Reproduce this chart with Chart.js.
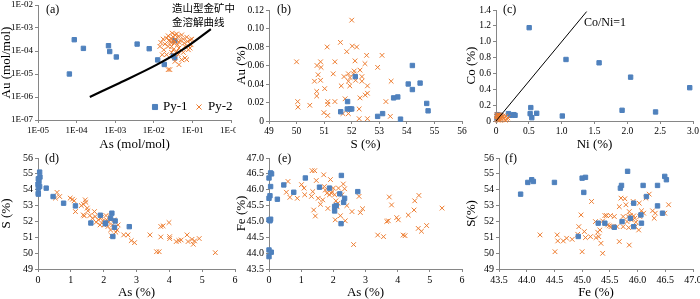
<!DOCTYPE html>
<html>
<head>
<meta charset="utf-8">
<script src="https://cdn.jsdelivr.net/npm/chart.js@4.4.0/dist/chart.umd.min.js"></script>
<style>
body { margin: 0; background: #fff; }
#wrap { position: relative; width: 700px; height: 299px; overflow: hidden; }
canvas { position: absolute; }
</style>
</head>
<body>
<div id="wrap">
<canvas id="ca" width="236" height="151" style="left:0;top:0"></canvas>
<canvas id="cb" width="232" height="151" style="left:235px;top:0"></canvas>
<canvas id="cc" width="235" height="151" style="left:465px;top:0"></canvas>
<canvas id="cd" width="240" height="149" style="left:0;top:150px"></canvas>
<canvas id="ce" width="232" height="149" style="left:235px;top:150px"></canvas>
<canvas id="cf" width="235" height="149" style="left:465px;top:150px"></canvas>
</div>
<script>
// ---- data ----
// (a) As vs Au, mol/mol, log-log
var aPy1 = [[6.5e-5,1e-5],[8.7e-5,3.1e-4],[1.5e-4,1.3e-4],[6.7e-4,1.7e-4],[7.2e-4,9.5e-5],[1.07e-3,5.5e-5],
  [3.7e-3,2.0e-4],[7.6e-3,1.26e-4],[0.0126,4.1e-5],[0.0187,2.6e-5],[0.032,6.2e-5],[0.035,5.0e-5],[0.035,2.8e-4]];
var aPy2 = [[0.0152,2.35e-4],[0.0175,3.28e-4],[0.0194,2.0e-4],[0.0214,3.62e-4],[0.0236,4.57e-4],[0.0261,2.6e-4],
  [0.0289,1.58e-4],[0.0301,5.96e-4],[0.0319,4.0e-4],[0.0332,2.2e-4],[0.0353,5.05e-4],[0.0367,3.28e-4],[0.039,5.5e-4],
  [0.0414,1.87e-4],[0.0431,4.28e-4],[0.0449,1.34e-4],[0.0477,2.87e-4],[0.0527,5.0e-4],[0.0582,3.28e-4],[0.0618,2.2e-4],
  [0.0644,1.58e-4],[0.0711,4.0e-4],[0.0755,2.6e-4],[0.0787,1.13e-4],[0.0869,3.07e-4],[0.0923,1.87e-4],[0.0582,8.7e-5],
  [0.0644,4.95e-5],[0.0711,4.2e-5],[0.0431,6.9e-5],[0.0449,2.55e-5],[0.0261,1.55e-5],[0.0236,1.55e-5],[0.0182,1.13e-4],
  [0.0165,6.9e-5],[0.0214,6.9e-5],[0.0527,4.2e-5],[0.0353,3.55e-5],[0.0319,1.13e-4],[0.039,9.6e-5],[0.0961,3.28e-4],
  [0.0869,1.34e-4],[0.0289,8.7e-5],[0.0144,1.58e-4],[0.0236,1.58e-4],[0.0277,2.35e-4],[0.025,3.0e-4],[0.028,3.5e-4],
  [0.033,2.8e-4],[0.045,2.4e-4]];
var aCurve = [[2.2e-4,1.0e-6],[1.3e-3,4.1e-6],[0.012,2.55e-5],[0.064,1.34e-4],[0.3,8.9e-4]];
var aXTicks = [1e-5,1e-4,1e-3,1e-2,1e-1,1];
var aXLabels = ['1E-05','1E-04','1E-03','1E-02','1E-01','1E-00'];
var aYTicks = [1e-7,1e-6,1e-5,1e-4,1e-3,1e-2];
var aYLabels = ['1E-07','1E-06','1E-05','1E-04','1E-03','1E-02'];

// (b) S vs Au, %
var bPy1 = [[51.6,0.010],[51.85,0.021],[51.84,0.013],[51.94,0.013],[52.0,0.013],[52.13,0.048],[52.94,0.005],
  [53.12,0.008],[53.52,0.025],[53.67,0.026],[53.77,0.002],[54.05,0.040],[54.2,0.060],[54.2,0.034],[54.48,0.041],
  [54.72,0.019],[54.77,0.011]];
var bPy2 = [[50.0,0.064],[50.04,0.021],[50.05,0.015],[50.48,0.017],[50.65,0.043],[50.74,0.06],[50.73,0.032],
  [50.73,0.027],[50.78,0.05],[50.87,0.064],[50.89,0.058],[50.87,0.044],[51.02,0.035],[50.99,0.009],[51.11,0.08],
  [51.13,0.021],[51.13,0.018],[51.13,0.006],[51.33,0.051],[51.39,0.064],[51.39,0.021],[51.59,0.085],[51.62,0.038],
  [51.68,0.008],[51.72,0.048],[51.76,0.024],[51.82,0.075],[51.88,0.051],[51.88,0.043],[51.88,0.008],[51.93,0.038],
  [51.94,0.047],[52.0,0.109],[52.02,0.081],[52.07,0.051],[52.09,0.054],[52.12,0.065],[52.18,0.08],[52.14,0.044],
  [52.27,0.013],[52.27,0.0025],[52.3,0.055],[52.3,0.025],[52.37,0.048],[52.37,0.043],[52.48,0.062],[52.49,0.028],
  [52.54,0.071],[52.57,0.038],[52.57,0.03],[52.57,0.0025],[52.94,0.058],[53.1,0.071],[53.24,0.021],[53.4,0.005],
  [53.43,0.043]];

// (c) Ni vs Co, %
var cPy1 = [[0.505,1.177],[1.066,0.776],[1.57,0.734],[2.05,0.553],[2.95,0.42],[1.92,0.135],[2.43,0.114],
  [0.53,0.169],[0.52,0.093],[0.545,0.042],[0.62,0.097],[1.01,0.063],[0.19,0.093],[0.22,0.072],[0.27,0.08],
  [0.29,0.072],[0.07,0.072],[0.015,0.03],[0.03,0.05],[0.02,0.08]];
var cPy2 = [[0.01,0.02],[0.02,0.05],[0.03,0.07],[0.04,0.03],[0.05,0.06],[0.06,0.01],[0.07,0.04],[0.08,0.07],
  [0.09,0.02],[0.1,0.05],[0.12,0.03],[0.14,0.01],[0.15,0.06],[0.17,0.02],[0.18,0.04],[0.005,0.06],[0.015,0.08],
  [0.03,0.01],[0.06,0.075],[0.11,0.065],[0.02,0.03],[0.04,0.08]];
var cRatio = [[0,0],[1.38,1.38]];

// (d) As vs S, %
var dPy1 = [[0.05,55.11],[0.01,54.69],[0.06,54.8],[0.03,54.52],[0,54.35],[0.05,54.2],[0.01,54.1],[0.01,53.78],
  [0.01,53.72],[0.25,54.1],[0.46,53.57],[0.78,53.15],[1.14,52.98],[1.61,51.9],[1.9,52.39],[2.06,51.9],[2.21,52.2],
  [2.25,52.52],[2.28,51.05],[2.35,52.03],[2.33,51.63],[2.78,51.67],[2.05,51.85]];
var dPy2 = [[0.58,53.83],[0.53,53.47],[0.66,53.57],[0.98,53.47],[1.05,53.4],[1.1,53.3],[1.14,52.62],[1.32,53.0],
  [1.38,53.09],[1.44,53.36],[1.46,53.2],[1.5,52.84],[1.38,52.41],[1.41,52.35],[1.52,52.67],[1.58,52.37],[1.66,52.2],
  [1.72,52.62],[1.74,52.31],[1.77,51.95],[1.84,52.1],[1.89,51.78],[1.93,52.24],[1.97,52.03],[2.01,51.78],[2.07,52.37],
  [2.09,52.1],[2.13,51.68],[2.15,51.95],[2.19,52.31],[2.21,51.46],[2.24,51.1],[2.27,51.78],[2.31,52.1],[2.37,51.32],
  [2.41,51.46],[2.44,51.78],[2.61,51.15],[2.74,51.15],[2.84,50.79],[2.94,50.66],[3.41,51.15],[3.61,50.09],[3.69,50.09],
  [3.74,51.68],[3.74,51.02],[3.81,51.72],[3.99,51.93],[4.01,51.04],[4.01,50.92],[4.21,50.73],[4.29,50.79],[4.36,50.83],
  [4.54,51.15],[4.57,50.73],[4.69,50.87],[4.73,50.56],[4.77,50.77],[4.91,50.92],[5.4,50.03]];

// (e) As vs Fe, %
var ePy1 = [[0,46.37],[0.05,46.53],[0.08,46.5],[0.05,46.1],[0.03,45.81],[0,45.73],[0.26,45.7],[0,45.05],[0.05,45.07],
  [0.03,45.02],[0,44.1],[0.07,44.03],[0,43.89],[0.46,46.15],[0.77,45.92],[1.13,46.37],[1.57,46.08],[1.88,46.05],
  [2.04,45.47],[2.04,45.33],[2.24,44.93],[2.2,45.87],[2.25,46.45],[2.32,45.6],[2.35,45.73],[2.76,45.94],[2.09,45.5]];
var ePy2 = [[0.59,46.26],[0.54,45.92],[0.65,45.76],[0.88,45.73],[1.01,46.16],[1.09,46.05],[1.11,45.84],[1.32,45.79],
  [1.34,46.6],[1.42,46.6],[1.47,46.29],[1.36,45.94],[1.39,45.36],[1.44,45.17],[1.53,45.73],[1.6,45.54],[1.67,45.68],
  [1.7,46.47],[1.72,46.1],[1.75,45.99],[1.8,45.89],[1.83,45.41],[1.88,45.84],[1.91,46.32],[1.94,45.89],[1.96,45.94],
  [2.0,46.05],[2.04,45.84],[2.06,45.05],[2.08,45.65],[2.12,45.46],[2.14,45.57],[2.16,46.05],[2.22,45.18],[2.27,45.84],
  [2.31,46.18],[2.35,46.03],[2.37,45.02],[2.42,45.5],[2.58,45.31],[2.8,45.79],[2.84,45.28],[2.91,45.4],[2.63,44.27],
  [3.38,44.57],[3.56,44.52],[3.66,45.0],[3.71,45.02],[3.74,45.77],[3.81,45.52],[3.97,45.12],[4.02,45.05],[4.33,45.2],
  [4.23,44.55],[4.17,44.57],[4.51,45.36],[4.53,45.65],[4.66,45.82],[4.64,44.78],[4.74,44.69],[4.9,44.87],[5.38,45.42]];

// (f) Fe vs S, %
var fPy1 = [[43.89,53.72],[44.02,54.46],[44.09,54.63],[44.12,54.52],[44.5,54.46],[45.0,54.73],[45.06,54.78],
  [45.03,53.83],[44.93,51.05],[45.29,51.89],[45.41,51.89],[45.58,51.63],[45.69,54.1],[45.71,54.27],[45.82,55.16],
  [45.72,51.99],[45.87,52.2],[45.93,53.15],[45.93,51.67],[46.06,52.41],[46.07,51.89],[46.1,54.27],[46.16,53.57],
  [46.36,52.98],[46.36,54.27],[46.45,52.52],[46.49,54.84],[46.52,54.63]];
var fPy2 = [[44.24,51.15],[44.51,50.09],[44.56,50.77],[44.55,51.15],[44.66,50.77],[44.72,50.94],[44.82,50.87],
  [44.92,51.19],[44.94,51.67],[44.98,52.41],[45.0,50.09],[45.04,51.36],[45.06,50.98],[45.15,51.04],[45.17,53.26],
  [45.24,51.99],[45.25,50.98],[45.28,51.32],[45.3,51.04],[45.32,51.46],[45.34,50.62],[45.37,52.03],[45.37,49.99],
  [45.41,52.37],[45.44,52.37],[45.46,51.78],[45.49,51.72],[45.51,52.37],[45.52,51.67],[45.56,51.67],[45.58,52.31],
  [45.63,51.67],[45.67,52.93],[45.67,50.73],[45.7,53.47],[45.74,52.31],[45.74,51.67],[45.77,53.43],[45.79,53.05],
  [45.81,51.99],[45.83,52.31],[45.84,51.61],[45.85,52.62],[45.85,50.51],[45.87,52.37],[45.89,52.09],[45.92,53.26],
  [45.93,52.35],[45.95,52.2],[45.96,51.67],[45.97,51.95],[46.02,51.46],[46.03,53.15],[46.04,52.31],[46.07,52.67],
  [46.11,52.52],[46.15,53.47],[46.21,53.72],[46.27,52.67],[46.3,52.2],[46.32,52.52],[46.49,52.52],[46.56,53.05]];

// ---- drawing ----
var BLUE = '#4f81bd';
var ORANGE = '#ed7d31';
var AXIS = '#868686';
var SERIF = '"Liberation Serif", "Times New Roman", serif';
var CJK = '"Noto Sans CJK SC", sans-serif';

Chart.defaults.font.family = SERIF;
Chart.defaults.color = '#000';

// panel letters, notes and the little legend in (a)
Chart.register({
  id: 'notes',
  afterDraw: function (chart, args, opts) {
    var ctx = chart.ctx;
    ctx.save();
    ctx.textBaseline = 'middle';
    ctx.textAlign = 'left';
    (opts.items || []).forEach(function (t) {
      if (t.mark) {
        ctx.fillStyle = t.color;
        ctx.strokeStyle = t.color;
        ctx.lineWidth = 1;
        Chart.helpers.drawPoint(ctx, { pointStyle: t.mark, radius: 3.6, rotation: 0, borderWidth: 1 }, t.x, t.y);
      } else {
        ctx.fillStyle = '#000';
        ctx.font = t.font || ('12px ' + SERIF);
        ctx.fillText(t.text, t.x, t.y);
      }
    });
    ctx.restore();
  }
});

function pts(pairs) {
  return pairs.map(function (p) { return { x: p[0], y: p[1] }; });
}

function py1(pairs, order) {
  return { label: 'Py-1', data: pts(pairs), pointStyle: 'rect', pointRadius: 3.1, borderWidth: 1,
    backgroundColor: BLUE, borderColor: BLUE, clip: false, order: order };
}

function py2(pairs, order) {
  return { label: 'Py-2', data: pts(pairs), pointStyle: 'crossRot', pointRadius: 3.3, borderWidth: 1,
    backgroundColor: ORANGE, borderColor: ORANGE, clip: false, order: order };
}

function curve(pairs, w) {
  return { data: pts(pairs), showLine: true, pointRadius: 0, borderColor: '#000', borderWidth: w,
    tension: 0.4, cubicInterpolationMode: 'monotone', order: 0 };
}

function axis(o) {
  var a = {
    type: o.type || 'linear',
    min: o.min,
    max: o.max,
    border: { color: AXIS, width: 1 },
    grid: { drawOnChartArea: false, color: AXIS, tickLength: 3 },
    ticks: { font: { size: o.size || 10 }, color: '#000', padding: 2, autoSkip: false, maxRotation: 0,
      stepSize: o.step, callback: o.fmt },
    title: { display: true, text: o.title, font: { size: 13, lineHeight: 1 }, padding: 0 },
    afterFit: function (s) {
      if (o.w) { s.width = o.w; s.paddingTop = 0; s.paddingBottom = 0; }
      if (o.h) { s.height = o.h; s.paddingLeft = 0; s.paddingRight = 0; }
    }
  };
  if (o.ticksAt) {
    a.afterBuildTicks = function (s) {
      s.ticks = o.ticksAt.map(function (v) { return { value: v }; });
    };
  }
  return a;
}

function fixed(n) {
  return function (v) { return v === 0 ? '0' : v.toFixed(n); };
}

function panel(id, datasets, x, y, pad, notes) {
  return new Chart(document.getElementById(id), {
    type: 'scatter',
    data: { datasets: datasets },
    options: {
      responsive: false,
      animation: false,
      events: [],
      layout: { padding: pad },
      plugins: { legend: { display: false }, tooltip: { enabled: false }, notes: { items: notes } },
      scales: { x: x, y: y }
    }
  });
}

panel('ca', [py1(aPy1, 2), py2(aPy2, 1), curve(aCurve, 2.2)],
  axis({ type: 'logarithmic', min: 1e-5, max: 1, ticksAt: aXTicks, title: 'As (mol/mol)', h: 31, size: 9,
    fmt: function (v, i) { return aXLabels[i]; } }),
  axis({ type: 'logarithmic', min: 1e-7, max: 1e-2, ticksAt: aYTicks, title: 'Au (mol/mol)', w: 38, size: 9,
    fmt: function (v, i) { return aYLabels[i]; } }),
  { left: 0, right: 1, top: 5, bottom: 0 },
  [{ text: '(a)', x: 46, y: 10 },
   { text: '造山型金矿中', x: 172, y: 8, font: '10.5px ' + CJK },
   { text: '金溶解曲线', x: 172, y: 22, font: '10.5px ' + CJK },
   { mark: 'rect', color: BLUE, x: 155, y: 107 },
   { text: 'Py-1', x: 163, y: 107, font: '13px ' + SERIF },
   { mark: 'crossRot', color: ORANGE, x: 199, y: 107 },
   { text: 'Py-2', x: 208, y: 107, font: '13px ' + SERIF }]);

panel('cb', [py1(bPy1, 1), py2(bPy2, 2)],
  axis({ min: 49, max: 56, step: 1, title: 'S (%)', h: 30, size: 9.5 }),
  axis({ min: 0, max: 0.12, step: 0.02, title: 'Au (%)', w: 34, size: 9.5, fmt: fixed(2) }),
  { left: 0, right: 4, top: 10, bottom: 0 },
  [{ text: '(b)', x: 42, y: 10 }]);

panel('cc', [py1(cPy1, 2), py2(cPy2, 1), curve(cRatio, 1)],
  axis({ min: 0, max: 3, step: 0.5, title: 'Ni (%)', h: 30, size: 9.5, fmt: fixed(1) }),
  axis({ min: 0, max: 1.4, step: 0.2, title: 'Co (%)', w: 31, size: 9.5, fmt: fixed(1) }),
  { left: 0, right: 7, top: 10, bottom: 0 },
  [{ text: '(c)', x: 38, y: 10 },
   { text: 'Co/Ni=1', x: 119, y: 23, font: '12px ' + SERIF }]);

panel('cd', [py1(dPy1, 1), py2(dPy2, 2)],
  axis({ min: 0, max: 6, step: 1, title: 'As (%)', h: 30 }),
  axis({ min: 49, max: 56, step: 1, title: 'S (%)', w: 38 }),
  { left: 0, right: 3, top: 8, bottom: 0 },
  [{ text: '(d)', x: 45, y: 9 }]);

panel('ce', [py1(ePy1, 1), py2(ePy2, 2)],
  axis({ min: 0, max: 6, step: 1, title: 'As (%)', h: 30 }),
  axis({ min: 43.5, max: 47, step: 0.5, title: 'Fe (%)', w: 34, fmt: fixed(1) }),
  { left: 0, right: 4, top: 8, bottom: 0 },
  [{ text: '(e)', x: 43, y: 9 }]);

panel('cf', [py1(fPy1, 1), py2(fPy2, 2)],
  axis({ min: 43.5, max: 47, step: 0.5, title: 'Fe (%)', h: 30, fmt: fixed(1) }),
  axis({ min: 49, max: 56, step: 1, title: 'S(%)', w: 34 }),
  { left: 0, right: 7, top: 8, bottom: 0 },
  [{ text: '(f)', x: 40, y: 9 }]);
</script>
</body>
</html>
